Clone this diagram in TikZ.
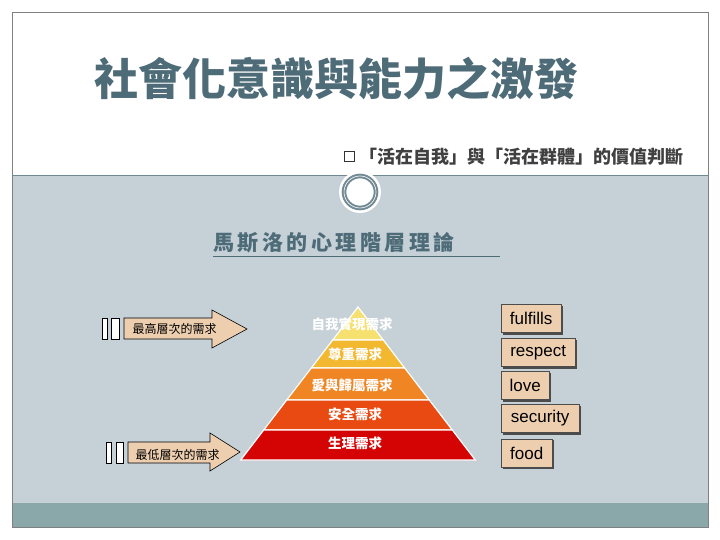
\documentclass[tikz,border=0pt]{standalone}
\usepackage{fontspec}
\setmainfont{Liberation Sans}
\newfontfamily\cjk{Noto Sans CJK TC}
\definecolor{bgblue}{HTML}{C5D0D7}
\definecolor{teal}{HTML}{8AA8AA}
\definecolor{titlec}{HTML}{4E6B78}
\definecolor{tan}{HTML}{EDCFB0}
\definecolor{ly1}{HTML}{F5E070}
\definecolor{ly2}{HTML}{F2B830}
\definecolor{ly3}{HTML}{F08524}
\definecolor{ly4}{HTML}{E84A12}
\definecolor{ly5}{HTML}{D40404}
\tikzset{
 lay/.style={draw=white,line width=1.2pt},
 ltext/.style={font=\cjk\bfseries\fontsize{13.5}{13.5}\selectfont,text=white},
 word/.style={fill=tan,font=\fontsize{17}{17}\selectfont,inner xsep=5pt,inner ysep=0pt,minimum height=28pt,anchor=west,
   draw=black!70,line width=0.4pt},
 bar/.style={fill=white,draw=black,line width=0.8pt},
 arr/.style={fill=tan,draw=black,line width=0.6pt},
 side/.style={font=\cjk\fontsize{12}{12}\selectfont}
}
\begin{document}
\begin{tikzpicture}[x=1pt,y=-1pt]
\useasboundingbox (0,0) rectangle (720,540);
\fill[white] (0,0) rectangle (720,540);
\fill[bgblue] (12,175) rectangle (708,503);
\fill[teal] (12,503) rectangle (708,527);
\draw[gray,line width=0.6pt] (12,12) rectangle (708,527);
\draw[titlec!80,line width=0.8pt] (12,175) -- (708,175);
\fill[white] (360,192) circle (21);
\draw[titlec!80,line width=2pt,double=white,double distance=0.6pt] (360,192) circle (16);
\node[anchor=west,text=titlec,font=\cjk\bfseries\fontsize{44}{44}\selectfont] (title) at (91,79) {社會化意識與能力之激發};
\node[draw=black!80,line width=1pt,minimum size=10pt,inner sep=0pt] (sq) at (349,157) {};
\node[anchor=west,text=black!75,font=\cjk\bfseries\fontsize{18}{18}\selectfont,inner sep=0pt] (sub) at (359,157) {「活在自我」與「活在群體」的價值判斷};
\node[anchor=west,text=titlec,font=\cjk\bfseries\fontsize{21}{21}\selectfont,inner sep=0pt] (head) at (213,243) {馬\,斯\,洛\,的\,心\,理\,階\,層\,理\,論};
\draw[titlec,line width=1pt] (213,256) -- (500,256);
% pyramid
\coordinate (apex) at (358,307);
\fill[ly1,lay] (358,307) -- (383.3,340) -- (332.7,340) -- cycle;
\fill[ly2,lay] (332.7,340) -- (383.3,340) -- (404.7,368) -- (311.3,368) -- cycle;
\fill[ly3,lay] (311.3,368) -- (404.7,368) -- (429.3,400) -- (286.7,400) -- cycle;
\fill[ly4,lay] (286.7,400) -- (429.3,400) -- (452.3,430) -- (263.7,430) -- cycle;
\fill[ly5,lay] (263.7,430) -- (452.3,430) -- (475.3,460) -- (240.7,460) -- cycle;
\node[ltext] (l1) at (352,324) {自我實現需求};
\node[ltext] (l2) at (355,354) {尊重需求};
\node[ltext] (l3) at (352,385) {愛與歸屬需求};
\node[ltext] (l4) at (355,414) {安全需求};
\node[ltext] (l5) at (355,443) {生理需求};
% left arrows
\draw[bar] (102,318) rectangle (107,339);
\draw[bar] (111,318) rectangle (119,339);
\draw[arr] (124,318) -- (212,318) -- (212,310) -- (247,329) -- (212,348) -- (212,339) -- (124,339) -- cycle;
\node[side,anchor=west] (t1) at (129,329) {最高層次的需求};
\draw[bar] (106,442) rectangle (111,463);
\draw[bar] (116,442) rectangle (123,463);
\draw[arr] (128,442) -- (210,442) -- (210,433) -- (240,452) -- (210,471) -- (210,463) -- (128,463) -- cycle;
\node[side,anchor=west] (t2) at (132,455) {最低層次的需求};
% words
\foreach \n/\w/\y/\t in {w1/60/318.5/fulfills,w2/74/352.5/respect,w3/48/385.5/love,w4/78/418.5/security,w5/51/453/food}{
  \fill[black!70] (503,\y-13) rectangle (501+\w+2,\y+16);
  \node[word,minimum width=\w pt] (\n) at (501,\y) {\t};
}
\end{tikzpicture}
\end{document}
